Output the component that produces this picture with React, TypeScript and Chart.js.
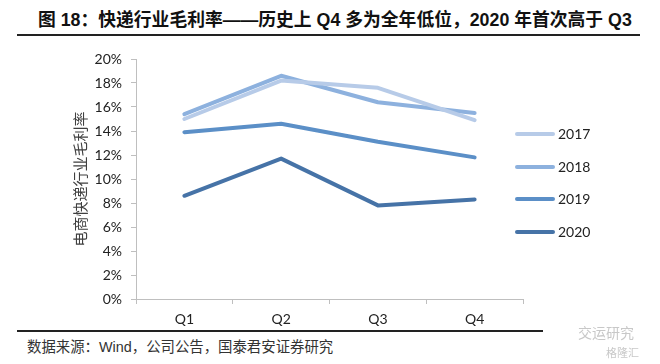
import React, { useEffect, useRef } from "react";
import { Chart, registerables } from "chart.js";

Chart.register(...registerables);

const categories = ["Q1", "Q2", "Q3", "Q4"];
const seriesNames = ["2017", "2018", "2019", "2020"];
const values2017 = [15.0, 18.2, 17.6, 14.9];
const values2018 = [15.4, 18.6, 16.4, 15.5];
const values2019 = [13.9, 14.6, 13.1, 11.8];
const values2020 = [8.6, 11.7, 7.8, 8.3];
const seriesColors = ["#B7CBE8", "#8DB1DE", "#5B8FC7", "#4673A7"];
const yMin = 0;
const yMax = 20;
const yStep = 2;

const titleText = "图 18：快递行业毛利率——历史上 Q4 多为全年低位，2020 年首次高于 Q3";
const yTitle = "电商快递行业毛利率";
const sourceText = "数据来源：Wind，公司公告，国泰君安证券研究";

export default function App() {
  const ref = useRef<HTMLCanvasElement | null>(null);

  useEffect(() => {
    if (!ref.current) return;
    const all = [values2017, values2018, values2019, values2020];
    const chart = new Chart(ref.current, {
      type: "line",
      data: {
        labels: categories,
        datasets: seriesNames.map((name, i) => ({
          label: name,
          data: all[i],
          borderColor: seriesColors[i],
          backgroundColor: seriesColors[i],
          borderWidth: 4,
          pointRadius: 0,
          tension: 0,
          borderCapStyle: "round" as const,
          borderJoinStyle: "round" as const,
        })),
      },
      options: {
        animation: false,
        responsive: true,
        maintainAspectRatio: false,
        layout: { padding: { left: 0, right: 137, top: 19, bottom: 0 } },
        plugins: { legend: { display: false }, tooltip: { enabled: false } },
        scales: {
          x: {
            offset: true,
            grid: {
              offset: true,
              drawOnChartArea: false,
              drawTicks: true,
              tickLength: 5,
              color: "#BFBFBF",
            },
            border: { display: true, color: "#BFBFBF", width: 1 },
            ticks: {
              color: "#222",
              padding: 7,
              font: { family: "Lato", size: 14 },
            },
            afterFit: (s: any) => {
              s.height = 31;
            },
          },
          y: {
            min: yMin,
            max: yMax,
            ticks: {
              stepSize: yStep,
              color: "#222",
              padding: 9,
              font: { family: "Lato", size: 14 },
              callback: (v: any) => v + "%",
            },
            grid: {
              drawOnChartArea: false,
              drawTicks: true,
              tickLength: 5,
              color: "#BFBFBF",
            },
            border: { display: true, color: "#BFBFBF", width: 1 },
            title: {
              display: true,
              text: yTitle,
              color: "#404040",
              font: { family: "Noto Sans CJK SC", size: 15 },
              padding: { top: 71, bottom: 0 },
            },
            afterFit: (s: any) => {
              s.width = 136;
            },
          },
        },
      },
    });
    return () => chart.destroy();
  }, []);

  const legendTops = [134, 166.7, 199.3, 232];

  return (
    <div
      style={{
        position: "fixed",
        left: 0,
        top: 0,
        width: 660,
        height: 364,
        background: "#fff",
        overflow: "hidden",
      }}
    >
      <div
        style={{
          position: "absolute",
          left: 38,
          top: 8,
          whiteSpace: "nowrap",
          fontFamily: "'Liberation Sans', 'Noto Sans CJK SC', sans-serif",
          fontWeight: 700,
          fontSize: 17.8,
          lineHeight: "24px",
          color: "#111",
        }}
      >
        {titleText}
      </div>
      <div
        style={{
          position: "absolute",
          left: 17,
          top: 34,
          width: 623,
          height: 2,
          background: "#222",
        }}
      />
      <div style={{ position: "absolute", left: 0, top: 40, width: 660, height: 290 }}>
        <canvas ref={ref} />
      </div>
      {seriesNames.map((name, i) => (
        <React.Fragment key={name}>
          <div
            style={{
              position: "absolute",
              left: 515,
              top: legendTops[i] - 2,
              width: 40,
              height: 4,
              borderRadius: 2,
              background: seriesColors[i],
            }}
          />
          <div
            style={{
              position: "absolute",
              left: 558,
              top: legendTops[i] - 10,
              lineHeight: "20px",
              fontFamily: "Lato",
              fontSize: 14,
              color: "#222",
            }}
          >
            {name}
          </div>
        </React.Fragment>
      ))}
      <div
        style={{
          position: "absolute",
          left: 17,
          top: 330,
          width: 526,
          height: 2,
          background: "#222",
        }}
      />
      <div
        style={{
          position: "absolute",
          left: 27,
          top: 337,
          whiteSpace: "nowrap",
          fontFamily: "'Liberation Sans', 'Noto Sans CJK SC', sans-serif",
          fontSize: 14.4,
          lineHeight: "20px",
          color: "#333",
        }}
      >
        {sourceText}
      </div>
      <div
        style={{
          position: "absolute",
          left: 578,
          top: 322,
          whiteSpace: "nowrap",
          fontFamily: "'Noto Sans CJK SC', sans-serif",
          fontSize: 14,
          lineHeight: "20px",
          color: "#C8C8C8",
        }}
      >
        交运研究
      </div>
      <div
        style={{
          position: "absolute",
          left: 606,
          top: 344,
          whiteSpace: "nowrap",
          fontFamily: "'Noto Sans CJK SC', sans-serif",
          fontSize: 11,
          lineHeight: "16px",
          color: "#C8C8C8",
        }}
      >
        格隆汇
      </div>
    </div>
  );
}
